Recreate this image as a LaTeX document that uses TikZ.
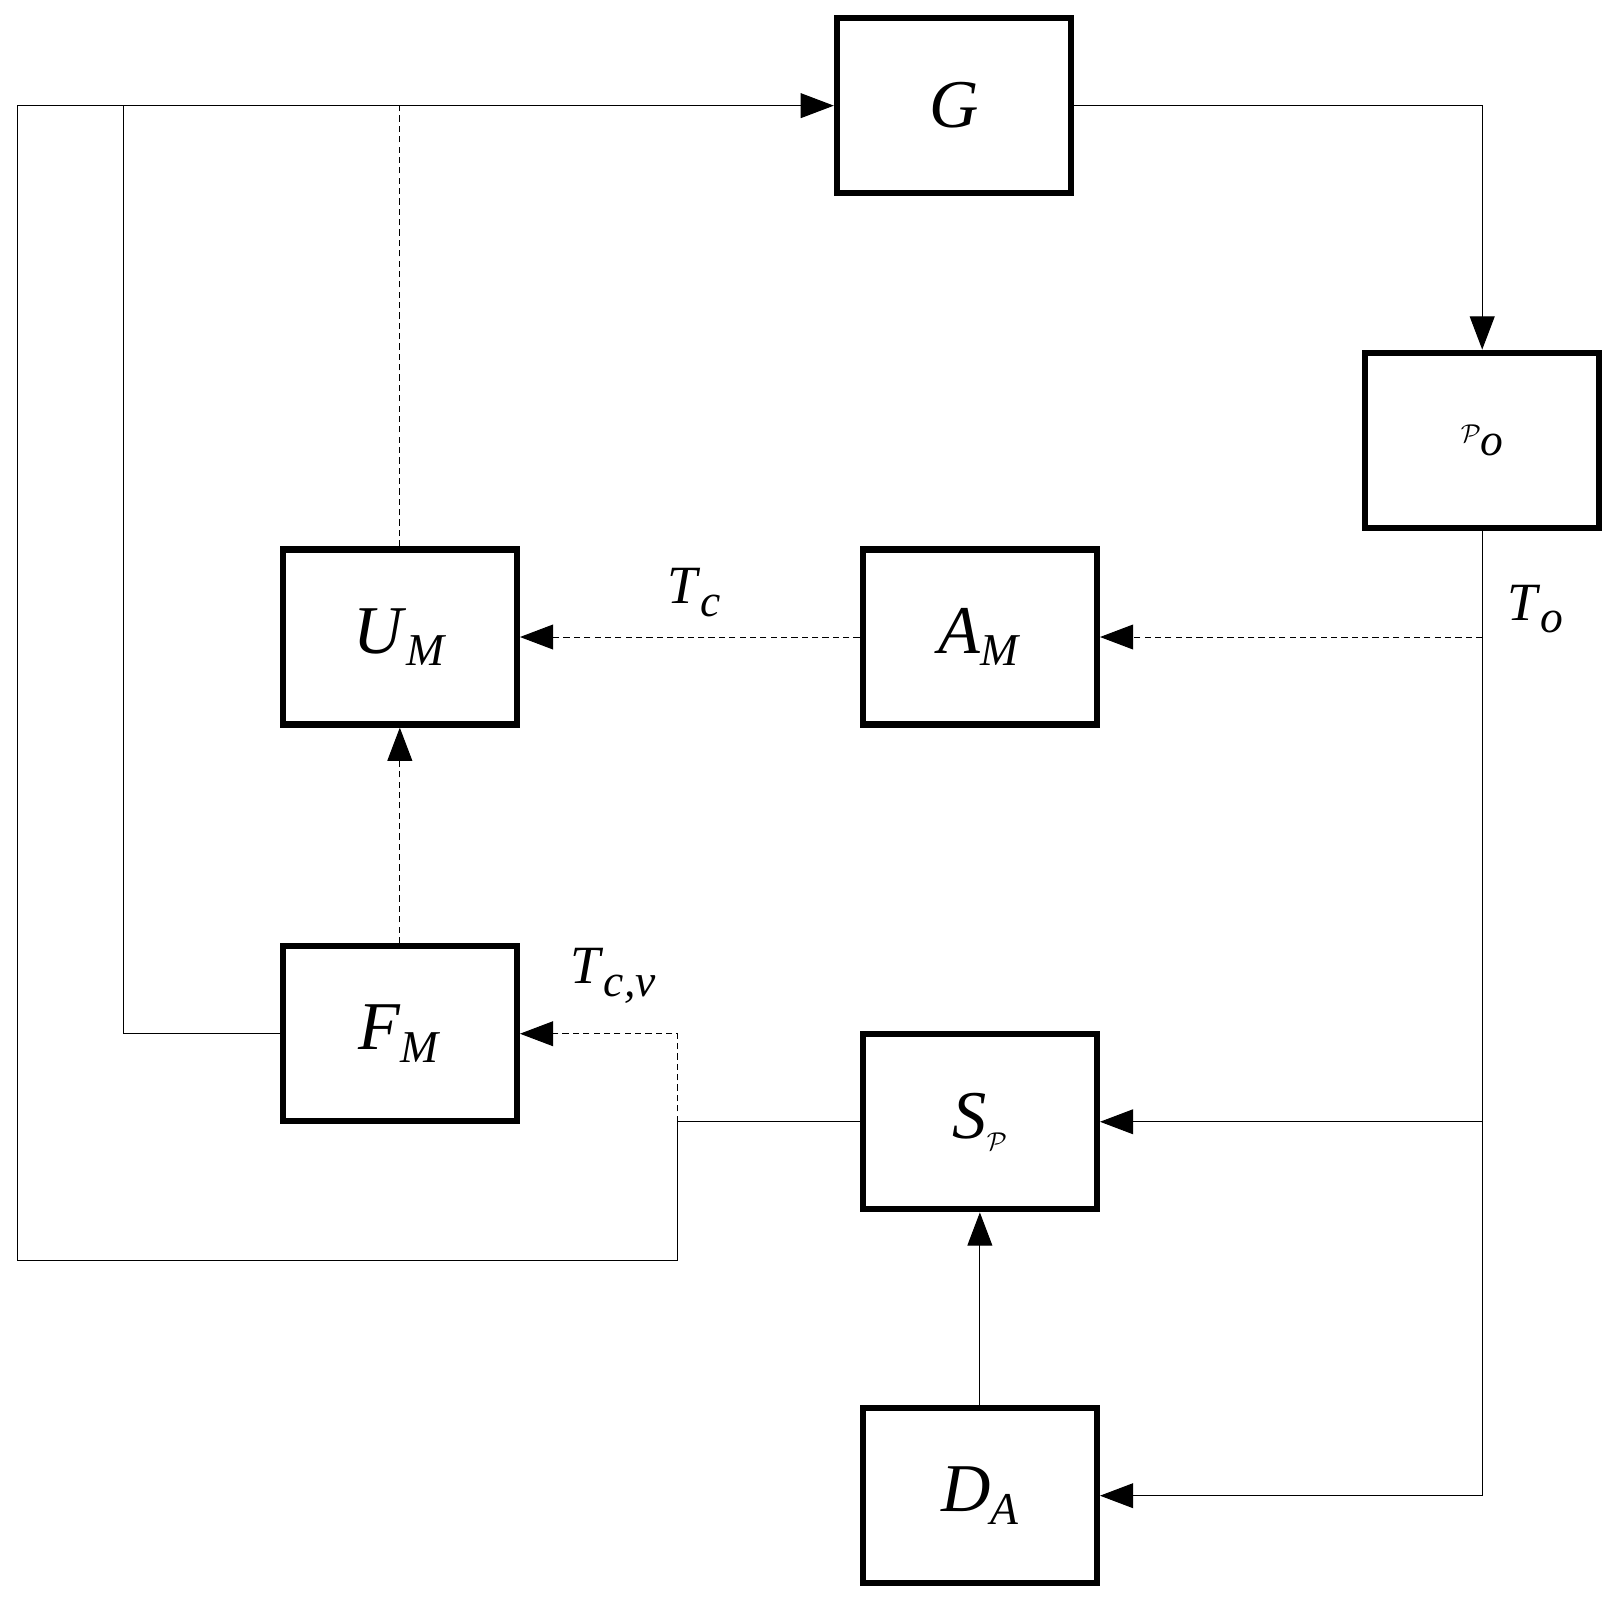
\documentclass[tikz,border=0pt]{standalone}
\usepackage{fontspec}
\setmainfont{Liberation Serif}
\usetikzlibrary{arrows.meta}
\newcommand{\lbl}[2]{\textit{#1}\raisebox{-12pt}{\fontsize{44}{48}\selectfont\textit{#2}}}
\begin{document}
\begin{tikzpicture}[x=1pt,y=-1pt,
  box/.style={draw,line width=6pt,minimum width=226pt,minimum height=169pt,font=\fontsize{66}{72}\selectfont},
  ln/.style={line width=1pt},
  dsh/.style={line width=1pt,dash pattern=on 6pt off 4pt},
  arr/.style={-{Triangle[length=32pt,width=24pt]}},
  tl/.style={font=\fontsize{52}{60}\selectfont}]
\useasboundingbox (0,0) rectangle (1565,1556);
\node[box] (G) at (921,102) {\textit{G}};
\node[box] (P) at (1431,425) {$\mathcal{P}$\raisebox{-12pt}{\fontsize{44}{48}\selectfont\textit{o}}};
\node[box] (U) at (386,615) {\lbl{U}{M}};
\node[box] (A) at (946,615) {\lbl{A}{M}};
\node[box] (F) at (386,998) {\lbl{F}{M}};
\node[box] (S) at (946,1083) {\textit{S}\raisebox{-12pt}{$\mathcal{P}$}};
\node[box] (D) at (946,1444) {\lbl{D}{A}};
\coordinate (tl) at (17,102);
\coordinate (t1) at (119,102);
\coordinate (t2) at (386,102);
\coordinate (gr) at (1431,102);
\coordinate (o1) at (1431,615);
\coordinate (o2) at (1431,1083);
\coordinate (o3) at (1431,1444);
\coordinate (j) at (654,1083);
\coordinate (j2) at (654,998);
\coordinate (b1) at (654,1217);
\coordinate (b2) at (17,1217);
\coordinate (f1) at (119,998);
\draw[ln,arr] (S.west) -- (j) -- (b1) -- (b2) -- (tl) -- (G.west);
\draw[ln] (F.west) -- (f1) -- (t1);
\draw[dsh] (U.north) -- (t2);
\draw[dsh,arr] (j) -- (j2) -- (F.east);
\draw[ln,arr] (G.east) -- (gr) -- (P.north);
\draw[ln,arr] (P.south) -- (o3) -- (D.east);
\draw[ln,arr] (o2) -- (S.east);
\draw[dsh,arr] (o1) -- (A.east);
\draw[dsh,arr] (A.west) -- (U.east);
\draw[dsh,arr] (F.north) -- (U.south);
\draw[ln,arr] (D.north) -- (S.south);
\node[tl] (Tc) at (670,572) {\lbl{T}{c}};
\node[tl] (To) at (1482,588) {\lbl{T}{o}};
\node[tl] (Tcv) at (592,942) {\lbl{T}{c,v}};
\end{tikzpicture}
\end{document}
